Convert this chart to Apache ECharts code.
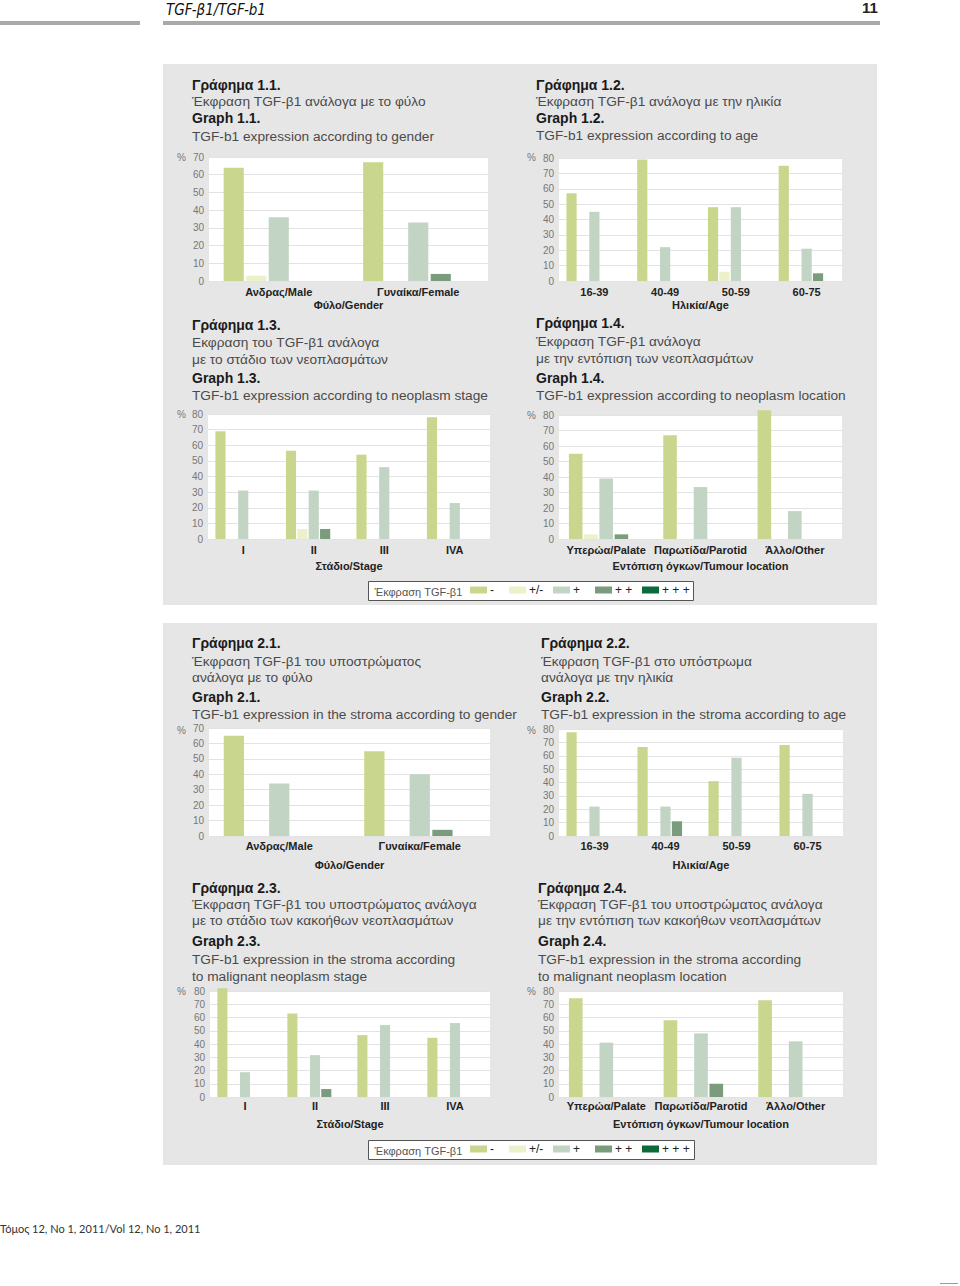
<!DOCTYPE html>
<html><head><meta charset="utf-8">
<script src="https://cdn.jsdelivr.net/npm/echarts@6/dist/echarts.min.js"></script>
<style>html,body{margin:0;padding:0;background:#fff}#c{width:960px;height:1286px}</style>
</head><body><div id="c"></div>
<script>
// ---------- DATA ----------
const levels = ['-', '+/-', '+', '++', '+++'];
const legendTitle = 'Έκφραση TGF-β1';
const catGender = ['Ανδρας/Male', 'Γυναίκα/Female'];
const catAge = ['16-39', '40-49', '50-59', '60-75'];
const catStage = ['I', 'II', 'III', 'IVA'];
const catLocation = ['Υπερώα/Palate', 'Παρωτίδα/Parotid', 'Άλλο/Other'];

// rows: levels (-, +/-, +, ++, +++); columns: categories  (values in %)
const g11 = [[64, 67], [3, 0], [36, 33], [0, 4], [0, 0]];
const g12 = [[57, 79, 48, 75], [0, 0, 6, 0], [45, 22, 48, 21], [0, 0, 0, 5], [0, 0, 0, 0]];
const g13 = [[69, 56.5, 54, 78], [0, 6.4, 0, 0], [31, 31, 46, 23], [0, 6.4, 0, 0], [0, 0, 0, 0]];
const g14 = [[55, 67, 83], [3, 0, 0], [39, 33.5, 18], [3, 0, 0], [0, 0, 0]];
const g21 = [[65, 55], [0, 0], [34, 40], [0, 4], [0, 0]];
const g22 = [[77.5, 66.5, 41, 68], [0, 0, 0, 0], [22, 22, 58.5, 31.5], [0, 11, 0, 0], [0, 0, 0, 0]];
const g23 = [[82, 63, 46.7, 44.7], [0, 0, 0, 0], [18.7, 31.6, 54.3, 55.8], [0, 6, 0, 0], [0, 0, 0, 0]];
const g24 = [[74.5, 58, 73], [0, 0, 0], [41, 48, 42], [0, 10, 0], [0, 0, 0]];

const t11 = ['Γράφημα 1.1.', 'Έκφραση TGF-β1 ανάλογα με το φύλο', 'Graph 1.1.', 'TGF-b1 expression according to gender'];
const t12 = ['Γράφημα 1.2.', 'Έκφραση TGF-β1 ανάλογα με την ηλικία', 'Graph 1.2.', 'TGF-b1 expression according to age'];
const t13 = ['Γράφημα 1.3.', 'Εκφραση του TGF-β1 ανάλογα', 'με το στάδιο των νεοπλασμάτων', 'Graph 1.3.', 'TGF-b1 expression according to neoplasm stage'];
const t14 = ['Γράφημα 1.4.', 'Έκφραση TGF-β1 ανάλογα', 'με την εντόπιση των νεοπλασμάτων', 'Graph 1.4.', 'TGF-b1 expression according to neoplasm location'];
const t21 = ['Γράφημα 2.1.', 'Έκφραση TGF-β1 του υποστρώματος', 'ανάλογα με το φύλο', 'Graph 2.1.', 'TGF-b1 expression in the stroma according to gender'];
const t22 = ['Γράφημα 2.2.', 'Έκφραση TGF-β1 στο υπόστρωμα', 'ανάλογα με την ηλικία', 'Graph 2.2.', 'TGF-b1 expression in the stroma according to age'];
const t23 = ['Γράφημα 2.3.', 'Έκφραση TGF-β1 του υποστρώματος ανάλογα', 'με το στάδιο των κακοήθων νεοπλασμάτων', 'Graph 2.3.', 'TGF-b1 expression in the stroma according', 'to malignant neoplasm stage'];
const t24 = ['Γράφημα 2.4.', 'Έκφραση TGF-β1 του υποστρώματος ανάλογα', 'με την εντόπιση των κακοήθων νεοπλασμάτων', 'Graph 2.4.', 'TGF-b1 expression in the stroma according', 'to malignant neoplasm location'];

const headerLeft = 'TGF-β1/TGF-b1';
const pageNumber = '11';
const footerText = 'Τόμος 12, Νο 1, 2011/Vol 12, No 1, 2011';

// ---------- LAYOUT / STYLE ----------
const FONT = '"Liberation Sans", Arial, Helvetica, sans-serif';
const colors = ['#c9d78e', '#edf1c9', '#c2d4c3', '#7b9b7d', '#0b6b3a'];

const panels = [
  {data: g11, cats: catGender, title: t11, max: 70, tx: 192, ty: [85, 101, 118, 136], grid: {left: 209, top: 157, width: 279, height: 124}, xName: 'Φύλο/Gender', lm: 5, ng: 18, pct: [177, 157]},
  {data: g12, cats: catAge, title: t12, max: 80, tx: 536, ty: [85, 101, 118, 135], grid: {left: 559, top: 158, width: 283, height: 123}, xName: 'Ηλικία/Age', lm: 5, ng: 18, pct: [527, 157]},
  {data: g13, cats: catStage, title: t13, max: 80, tx: 192, ty: [325, 342, 359, 378, 395], grid: {left: 208, top: 414, width: 282, height: 125}, xName: 'Στάδιο/Stage', lm: 5, ng: 21, pct: [177, 414]},
  {data: g14, cats: catLocation, title: t14, max: 80, tx: 536, ty: [323, 341, 358, 378, 395], grid: {left: 559, top: 415, width: 283, height: 124}, xName: 'Εντόπιση όγκων/Tumour location', lm: 5, ng: 21, pct: [527, 415]},
  {data: g21, cats: catGender, title: t21, max: 70, tx: 192, ty: [643, 661, 677, 697, 714], grid: {left: 209, top: 728, width: 281, height: 108}, xName: 'Φύλο/Gender', lm: 4, ng: 23, pct: [177, 730]},
  {data: g22, cats: catAge, title: t22, max: 80, tx: 541, ty: [643, 661, 677, 697, 714], grid: {left: 559, top: 729, width: 284, height: 107}, xName: 'Ηλικία/Age', lm: 4, ng: 23, pct: [527, 730]},
  {data: g23, cats: catStage, title: t23, max: 80, tx: 192, ty: [888, 904, 920, 941, 959, 976], grid: {left: 210, top: 991, width: 280, height: 106}, xName: 'Στάδιο/Stage', lm: 3, ng: 21, pct: [177, 991]},
  {data: g24, cats: catLocation, title: t24, max: 80, tx: 538, ty: [888, 904, 920, 941, 959, 976], grid: {left: 559, top: 991, width: 284, height: 106}, xName: 'Εντόπιση όγκων/Tumour location', lm: 3, ng: 21, pct: [527, 991]}
];

function txt(x, y, text, font, fill, align) {
  return {type: 'text', x: x, y: y, silent: true, z: 10,
    style: {text: text, font: font, fill: fill, textAlign: align || 'left', textVerticalAlign: 'middle', align: align || 'left', verticalAlign: 'middle'}};
}
function rect(x, y, w, h, fill, stroke, z) {
  return {type: 'rect', silent: true, z: z, shape: {x: x, y: y, width: w, height: h},
    style: {fill: fill, stroke: stroke || null, lineWidth: stroke ? 1 : 0}};
}

const graphics = [];
// header
graphics.push(rect(0, 21, 140, 4, '#a9a9a9', null, 1));
graphics.push(rect(163, 21, 717, 4, '#a9a9a9', null, 1));
graphics.push(txt(166, 10, headerLeft, 'italic 15px "Liberation Sans Narrow", "DejaVu Sans Condensed", sans-serif', '#111'));
graphics.push(txt(862, 7, pageNumber, 'bold 15px ' + FONT, '#222'));
// panels
graphics.push(rect(163, 64, 714, 541, '#e6e6e6', null, -5));
graphics.push(rect(163, 623, 714, 542, '#e6e6e6', null, -5));
// legend boxes
const legendBoxes = [{x: 368.5, y: 581.5, w: 325, h: 19}, {x: 368.5, y: 1140.5, w: 326, h: 19}];
legendBoxes.forEach(b => {
  graphics.push(rect(b.x, b.y, b.w, b.h, '#ffffff', '#555', 1));
  graphics.push(txt(b.x + 6, b.y + b.h / 2 + 0.5, legendTitle, '11px ' + FONT, '#555'));
});
// footer
graphics.push(txt(0, 1228, footerText, '11px Lato, "Open Sans", sans-serif', '#333'));
graphics.push(rect(940, 1283, 18, 1, '#999', null, 1));

// titles & % marks
panels.forEach(p => {
  p.title.forEach((line, i) => {
    const bold = /^(Γράφημα|Graph )/.test(line);
    graphics.push(txt(p.tx, p.ty[i], line, bold ? ('bold 14px ' + FONT) : ('13.7px ' + FONT), bold ? '#1a1a1a' : '#4a4a4a'));
  });
  graphics.push(txt(p.pct[0], p.pct[1], '%', '10px ' + FONT, '#777'));
});

// legends: one component per item for exact placement
const legendX = [470, 509, 553, 595, 642];
const legendTops = [584, 1143];
const legendLabel = {'-': '-', '+/-': '+/-', '+': '+', '++': '+ +', '+++': '+ + +'};
const legends = [];
legendTops.forEach(top => {
  levels.forEach((lv, i) => {
    legends.push({
      data: [lv], left: legendX[i], top: top, padding: 0, itemWidth: 17, itemHeight: 7, icon: 'rect',
      selectedMode: false, formatter: n => legendLabel[n],
      textStyle: {fontSize: 12, color: '#222', fontFamily: FONT, padding: [0, 0, 0, -2]}
    });
  });
});

const series = [];
panels.forEach((p, k) => {
  levels.forEach((lv, i) => {
    series.push({
      type: 'bar', name: lv, xAxisIndex: k, yAxisIndex: k, data: p.data[i],
      itemStyle: {color: colors[i]}, barGap: '12%', barCategoryGap: '21%', clip: false, silent: true
    });
  });
});

const option = {
  animation: false,
  backgroundColor: '#ffffff',
  textStyle: {fontFamily: FONT},
  grid: panels.map(p => Object.assign({show: true, backgroundColor: '#ffffff', borderWidth: 0}, p.grid)),
  xAxis: panels.map((p, i) => ({
    type: 'category', gridIndex: i, data: p.cats,
    axisLine: {show: false}, axisTick: {show: false},
    axisLabel: {interval: 0, margin: p.lm, fontSize: 11, fontWeight: 'bold', color: '#222', fontFamily: FONT},
    name: p.xName, nameLocation: 'middle', nameGap: p.ng,
    nameTextStyle: {fontSize: 11, fontWeight: 'bold', color: '#222', fontFamily: FONT}
  })),
  yAxis: panels.map((p, i) => ({
    type: 'value', gridIndex: i, min: 0, max: p.max, interval: 10,
    axisLine: {show: false}, axisTick: {show: false},
    axisLabel: {fontSize: 10, color: '#777', margin: 5, fontFamily: FONT},
    splitLine: {lineStyle: {color: '#e3e3e3', width: 1}}
  })),
  legend: legends,
  series: series,
  graphic: {elements: graphics}
};

const chart = echarts.init(document.getElementById('c'), null, {renderer: 'svg', width: 960, height: 1286});
chart.setOption(option);
</script>
</body></html>
